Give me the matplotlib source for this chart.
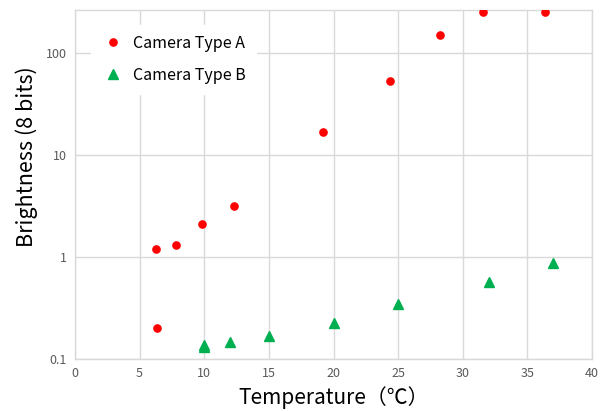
import matplotlib
matplotlib.use("Agg")
import matplotlib.pyplot as plt
from matplotlib.ticker import FixedLocator, FixedFormatter, NullLocator

temp_a = [6.25, 6.38, 7.85, 9.86, 12.33, 19.2, 24.38, 28.26, 31.56, 36.35]
bright_a = [1.21, 0.203, 1.31, 2.09, 3.14, 16.8, 54, 150, 252, 252]
temp_b = [10, 10, 12, 15, 20, 25, 32, 37]
bright_b = [0.13, 0.136, 0.146, 0.167, 0.225, 0.346, 0.57, 0.87]
x_ticks = [0, 5, 10, 15, 20, 25, 30, 35, 40]
y_ticks = [0.1, 1, 10, 100]
y_tick_labels = ["0.1", "1", "10", "100"]

plt.rcParams['font.family'] = ['Noto Sans CJK JP', 'DejaVu Sans']

fig = plt.figure(figsize=(6.07, 4.11), dpi=100)
ax = fig.add_axes([75/607, 1 - 359/411, (592-75)/607, (359-10)/411])

ax.set_yscale('log')
ax.set_xlim(0, 40)
ax.set_ylim(0.1, 266)

ax.plot(temp_a, bright_a, 'o', color='#FF0000', markersize=5.2, label='Camera Type A', zorder=3)
ax.plot(temp_b, bright_b, '^', color='#00B050', markersize=7, label='Camera Type B', zorder=3)

ax.xaxis.set_major_locator(FixedLocator(x_ticks))
ax.yaxis.set_major_locator(FixedLocator(y_ticks))
ax.yaxis.set_major_formatter(FixedFormatter(y_tick_labels))
ax.yaxis.set_minor_locator(NullLocator())

ax.grid(True, color='#d9d9d9', linewidth=1)
ax.set_axisbelow(True)
for s in ax.spines.values():
    s.set_color('#d9d9d9')
    s.set_linewidth(1)
ax.tick_params(length=0, labelsize=9, labelcolor='#595959', pad=6)

ax.set_xlabel('Temperature（℃）', fontsize=15, labelpad=4)
ax.set_ylabel('Brightness (8 bits)', fontsize=15.5)
ax.yaxis.set_label_coords(-0.072, 0.579)

leg = ax.legend(loc='upper left', bbox_to_anchor=(0.022, 0.97), frameon=True,
                fontsize=11.5, handletextpad=0.55, labelspacing=0.95, borderpad=0.6,
                handlelength=1.5, borderaxespad=0.3)
leg.get_frame().set_edgecolor('white')
leg.get_frame().set_facecolor('white')
leg.get_frame().set_alpha(1)
leg.get_frame().set_boxstyle('square', pad=0)

fig.savefig('out.png', dpi=100)
